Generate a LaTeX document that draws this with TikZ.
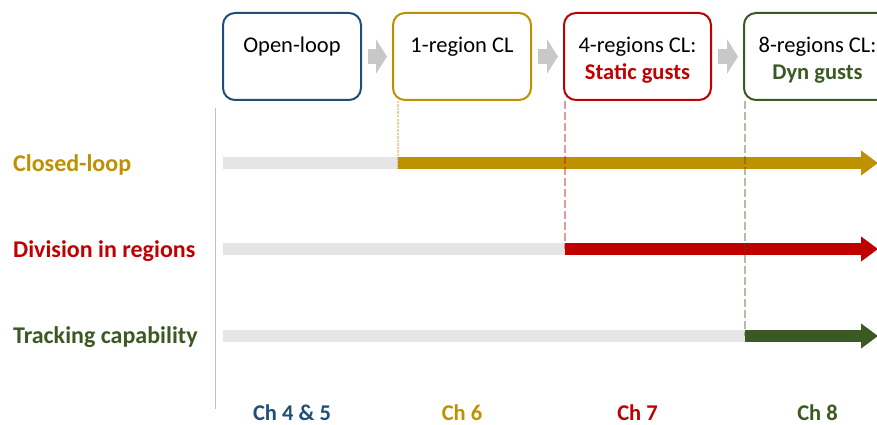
\documentclass[tikz,border=0pt]{standalone}
\usepackage{fontspec}
\setmainfont{Carlito}
\usetikzlibrary{arrows.meta}
\definecolor{olblue}{HTML}{1F4E79}
\definecolor{clgold}{HTML}{BF9000}
\definecolor{rgred}{HTML}{C00000}
\definecolor{trgreen}{HTML}{3B5A23}
\definecolor{barbg}{HTML}{E5E5E5}
\definecolor{chevron}{HTML}{C8C8C8}
\definecolor{axisgray}{HTML}{BFBFBF}
\begin{document}
\begin{tikzpicture}[x=1pt,y=-1pt,
  stage/.style={draw, line width=2pt, rounded corners=12pt, fill=white,
    minimum height=87pt, inner sep=0pt},
  stagetext/.style={anchor=base, inner sep=0pt, font=\fontsize{22.5}{27}\selectfont},
  flow/.style={draw=chevron, line width=15pt,
    -{Triangle[length=11pt,width=34pt]}, shorten <=6pt, shorten >=5pt},
  rowlabel/.style={anchor=base west, inner sep=0pt, font=\fontsize{24}{28}\selectfont\bfseries},
  chlabel/.style={anchor=base, inner sep=0pt, font=\fontsize{22.5}{27}\selectfont\bfseries},
  track/.style={fill=barbg},
  progress/.style={line width=12pt, -{Triangle[length=17pt,width=24pt]}},
  marker/.style={line width=1.5pt, opacity=0.4}
]
\useasboundingbox (0,0) rectangle (877,425);
\clip (0,0) rectangle (877,425);

% stage boxes
\node[stage, draw=olblue, minimum width=138pt] (ol) at (292,56.5) {};
\node[stage, draw=clgold, minimum width=138pt] (cl) at (462,56.5) {};
\node[stage, draw=rgred, minimum width=147pt] (rg) at (637.5,56.5) {};
\node[stage, draw=trgreen, minimum width=147pt] (tr) at (817.5,56.5) {};

% stage captions
\node[stagetext] (olt) at (ol |- 0,52.5) {Open-loop};
\node[stagetext] (clt) at (cl |- 0,52.5) {1-region CL};
\node[stagetext] (rgt) at (rg |- 0,52.5) {4-regions CL:};
\node[stagetext, text=rgred, font=\fontsize{22.5}{27}\selectfont\bfseries] (rgs) at (rg |- 0,79.5) {Static gusts};
\node[stagetext] (trt) at (tr |- 0,52.5) {8-regions CL:};
\node[stagetext, text=trgreen, font=\fontsize{22.5}{27}\selectfont\bfseries] (trs) at (tr |- 0,79.5) {Dyn gusts};

% chevrons between stages
\draw[flow] (ol.east) -- (cl.west);
\draw[flow] (cl.east) -- (rg.west);
\draw[flow] (rg.east) -- (tr.west);

% vertical axis
\coordinate (axtop) at (215,108);
\coordinate (axbot) at (215,409);
\draw[axisgray, line width=1pt] (axtop) -- (axbot);

% row labels
\node[rowlabel, text=clgold] (lcl) at (13,171) {Closed-loop};
\node[rowlabel, text=rgred] (lrg) at (13,257) {Division in regions};
\node[rowlabel, text=trgreen] (ltr) at (13,343) {Tracking capability};

% bar anchors
\coordinate (clstart) at (398,163);
\coordinate (clend) at (878,163);
\coordinate (rgstart) at (565,249);
\coordinate (rgend) at (878,249);
\coordinate (trstart) at (745,336);
\coordinate (trend) at (878,336);

% grey tracks
\fill[track] (223,157) rectangle (398,169);
\fill[track] (223,243) rectangle (565,255);
\fill[track] (223,330) rectangle (745,342);

% coloured progress arrows
\draw[progress, clgold] (clstart) -- (clend);
\draw[progress, rgred] (rgstart) -- (rgend);
\draw[progress, trgreen] (trstart) -- (trend);

% dashed markers from stages to rows
\draw[marker, clgold, dash pattern=on 2.5pt off 1pt] (cl.south -| clstart) -- ([yshift=-6pt]clstart);
\draw[marker, rgred, dash pattern=on 8pt off 3pt] (rg.south -| rgstart) -- (rgstart);
\draw[marker, trgreen, dash pattern=on 8pt off 3pt] (tr.south -| trstart) -- (trstart);

% chapter labels
\node[chlabel, text=olblue] (ch1) at (ol |- 0,420) {Ch 4 \& 5};
\node[chlabel, text=clgold] (ch2) at (cl |- 0,420) {Ch 6};
\node[chlabel, text=rgred] (ch3) at (rg |- 0,420) {Ch 7};
\node[chlabel, text=trgreen] (ch4) at (tr |- 0,420) {Ch 8};
\end{tikzpicture}
\end{document}
